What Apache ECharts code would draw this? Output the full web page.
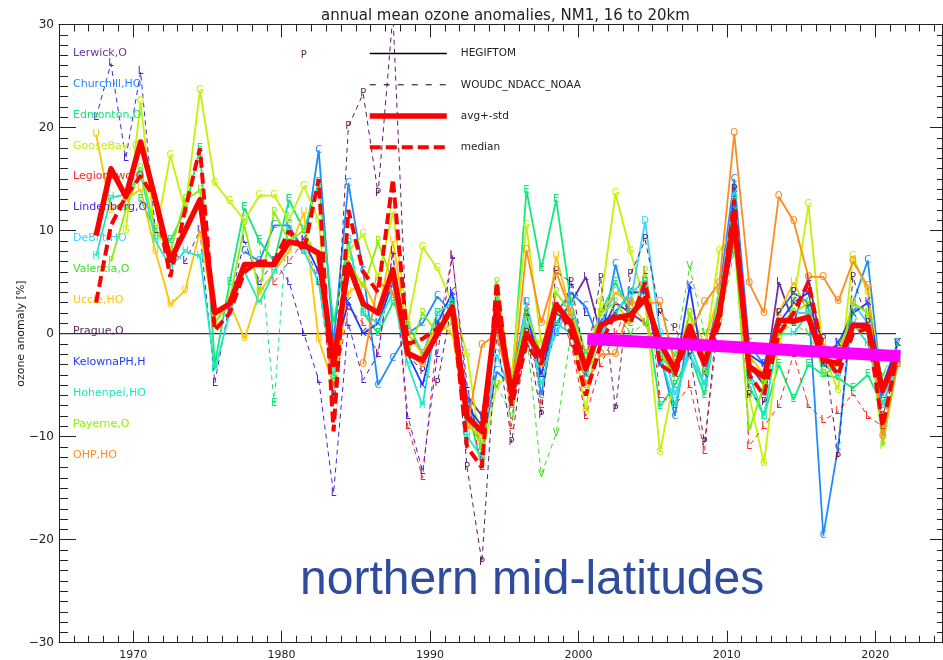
<!DOCTYPE html>
<html>
<head>
<meta charset="utf-8">
<script src="https://cdn.jsdelivr.net/npm/echarts@6/dist/echarts.min.js"></script>
<style>
html, body { margin: 0; padding: 0; background: #fff; }
#main { width: 943px; height: 660px; }
</style>
</head>
<body>
<div id="main"></div>
<script>
// annual means, one value per year from the start year (plotted at mid-year)
var avgStart = 1967;
var avgStd = [9.5, 16, 13.3, 18.6, 13, 7.1, 10, 13, 2, 2.9,
    6.7, 6.7, 6.7, 8.9, 8.6, 7.8, -3, 6.7, 2.9, 2.0,
    6.2, -1.9, -2.6, 0, 2.6, -8.1, -9.5, 2.6, -5.8, 0,
    -2.2, 2.8, 1.0, -3.4, 0.8, 1.5, 1.8, 3.4, -0.9, -3.5,
    0.7, -2.9, 2.0, 11.0, -3.2, -4.2, 1.3, 1.2, 1.6, -2.6,
    -2.9, 0.8, 0.7, -5.5, -2.2];
var median = [3, 10.5, 13.3, 15.3, 13, 5.5, 12, 18, 0.3, 2,
    6, 7, 7, 10, 8, 15, -9.5, 12, 6, 4,
    15, -1, -0.5, 0.5, 2.5, -11, -13, 5, -7, -1,
    -3, 3, 0, -6, -1, 2, 1, 5, -3, -4,
    0, -3, 1, 13, -4, -6, 0, 2, 5, -2,
    -4, 0, 0.5, -9, -2];

// stations (HEGIFTOM solid, WOUDC_NDACC_NOAA dashed)
var lerwickStart = 1992;
var lerwick = [-6, -8, 1, -4, 2, -3, 1, 3, 5.5, 0,
    3, 2, 1, -2, -4, 0, -3, 2, 9, -3,
    -5, 5, 1, 5.4, -2, -1, 1, 1, -6, -2];
var churchillStart = 1977;
var churchill = [8, 7, 10.5, 10.5, 8, 17.8,
    -1, 14.6, 6, -5, -2.4, 0, 1, 3.6, 2, -6,
    -11, -3.7, -5, 3, -6, 2, 4, 2.6, -1, 6.7,
    1, 5, -2, -8, 1, -3, 4, 15, -1, -3,
    2, 4, 3, -19.6, -11, 3, 7.1, -6, -1];
var edmontonStart = 1970;
var edmonton = [13, 10, 9, 12, 18, -3, 5, 12.2, 9, 7,
    13, 10, 14.7, 1, 9, 2, 0, 3, 1, -2,
    2, 3, -7, -13, 2, -5, 13.9, 6.3, 13, 3,
    -2, 2, 5, 2, 3, -7.1, -5, -2, -6, 3,
    12, -5, -8, -3, -6.4, -3, -4, -4.3, -5.3, -4,
    -7, -3];
var edmontonWStart = 1977;
var edmontonW = [12.2, 9, -6.8, 13, 10];
var gooseStart = 1969;
var goose = [10, 22.5, 9.4, 17.3, 12, 23.6, 14.6, 12.8, 11, 13.4,
    13.4, 11, 14.3, 11, -4, 8, 9.6, 5.4, 11.8, 1,
    8.4, 6.3, 3, -2, -12, -5, -4, 10.5, -1, 2,
    1, -7.6, 3, 13.6, 8, 3, -11.5, -4, 1, -2,
    8, 10, -6, -12.6, -1, 3, 12.5, -2, -5.5, 7.5,
    4, -5, -3];
var legionowoStart = 1979;
var legionowo = [5, 7, 9, 5, -6, 2.5, 1, -2, 8, -9,
    -14, 0, 7.6, -6, -13, 3, -9, 3, -7, 3,
    -1, -8, -3, 0, 3, 6, -6, -7, -5, -11.4,
    4, 14, -10.9, -9, -7, -2, -7, -8.4, -7.6, -5.8,
    -8, -9, -3];
var lindenbergStart = 1967;
var lindenberg = [21, 26.2, 17, 25.4, 10, 8, 7, 10, -4.8, 3,
    9, 5, 7, 5, 0, -4.5, -15.5, 1, -4.5, -2,
    8, -8, -13.4, -2, 7.5, -5, -12, 2, -7, -1,
    -4, 0, 5, 2];
var debiltStart = 1993;
var debilt = [-11, -2, -6, 3, -3, 0, 3, -3, 1, 4,
    3, 10.9, 0, -6, -2, -5, 3, 14, -4, -6,
    1, 2, 2, -3, -4, 3, 1, -7, -2];
var valentiaStart = 1994;
var valentia = [-5, -8, 0, -13.7, -9.7, 0, -4, -1, 2, 0,
    1, -3, -2, 6.5, 0, 1, 8, -2, -5, 0,
    1, 0, -3, -1, 2, 0, -4, -1];
var uccleStart = 1967;
var uccle = [19.3, 12, 13, 14, 8, 2.8, 4.2, 10, 1, 3,
    -0.5, 4, 6, 8, 11.8, -0.6, -5, 4, 5, 2,
    9, 0, -2, 1, 0, -9, -10, 1, -7, 1,
    -3, 7.5, 2, -2, 2, 4, 3, 1, -2, -3,
    2, -1, 4, 9, -2, -4, 2, 5, 2, -1,
    -2, 3, 2, -5, -2];
var pragueStart = 1981;
var prague = [27, null, -6, 20.1, 23.3, 13.6, 31, -2, -3.7, -4.8,
    3, -13, -22.2, 0, -10.6, 0, -7.9, 6, 5, -3,
    5.4, -7.4, 5.7, 9.1, 2, 0.5, -2, -10.6, 2, 14,
    -6, -6.7, 2, 4, 2.6, -0.6, -12, 5.5, 1, -8,
    -3];
var kelownaStart = 1981;
var kelowna = [9, 6, -2, 3, 0, 1, 5, -2, -5, 1,
    4, -7, -9, 1, -6, 2, -4, 2, 1, -4,
    1, 2, 4, 4, -3, -4, 4.6, -4, 2, 12,
    -2, -3, 1, 3, 4, -3, -1, 2, 3, -5,
    -1];
var hohenpeiStart = 1967;
var hohenpei = [7.5, 13.2, 13.5, 15.5, 9, 6.5, 8, 7.5, -3.5, 2,
    6, 3, 6, 10, 8, 5, -4.5, 9, 2, 1,
    4, -3, -7, 2, 3, -10, -12, 4, -7, 1,
    -5, 1, 0, -4, 0, 2, 4, 5, -2, -7,
    -1, -5, 2, 13, -4, -8, 0, 0, 2, -4,
    -3, 1, -1, -7, -3];
var payerneStart = 1968;
var payerne = [7, 12, 16, 10, 8, 13, 13.9, 1, 3.3, 10.5,
    4, 11.8, 9, 10, 7, -3, 7, 4.5, 8.9, 5,
    -2, 2, 0, 1, -8, -11, 5, -5, 2, -2,
    4, 2, -3, 2, 3, 1, 6, -2, -4, 2,
    -4, 4, 9, -9.4, -5, 0, 2, 3, -4, -3,
    3, 2, -10.9, -3];
var ohpStart = 1985;
var ohp = [-3, 5, 4, -2, -3, 0, 2, -9, -1.1, 0,
    -6, 8.1, 1, 6, 2, -5, -2, -2, 3, 3,
    3, -3, 0, 3, 4.9, 19.4, 4.9, 2, 13.3, 10.9,
    5.5, 5.5, 3.1, 7, 4.6, -10, -3];

// trend 2000 onwards, and the zero reference
var trendYears = [2000.6, 2021.7];
var trendValues = [-0.5, -2.2];
var zeroYears = [1965, 2021.4];

var stationNames = ['Lerwick,O', 'Churchill,HO', 'Edmonton,O', 'GooseBay,O', 'Legionowo,O',
    'Lindenberg,O', 'DeBilt,HO', 'Valentia,O', 'Uccle,HO', 'Prague,O',
    'KelownaPH,H', 'Hohenpei,HO', 'Payerne,O', 'OHP,HO'];
var stationColors = ['#7030a0', '#1e8cff', '#14e878', '#c4f200', '#ff2424',
    '#4a1fdc', '#38d4ff', '#3ae01e', '#ffc400', '#5c1f5c',
    '#1c3cff', '#1ee8c4', '#8ef000', '#ff8a1e'];
var majorYears = [1970, 1980, 1990, 2000, 2010, 2020];
var minorYears = [];
for (var y = 1966; y <= 2024; y++) minorYears.push(y);

var FONT = 'DejaVu Sans';

function pts(start, vals) { // year -> mid-year point
    return vals.map(function (v, i) { return [start + i + 0.5, v]; });
}

function station(idx, letter, start, vals, dashed) {
    var c = stationColors[idx];
    return {
        name: stationNames[idx], type: 'line', data: pts(start, vals),
        symbol: 'circle', symbolSize: 0.01, showSymbol: true,
        color: c,
        lineStyle: { color: c, width: dashed ? 1 : 1.8, type: dashed ? [5, 4] : 'solid' },
        label: { show: true, position: 'inside', formatter: letter, color: c,
            fontFamily: FONT, fontSize: 10 },
        silent: true, z: 2
    };
}

var series = [
    { name: 'zero', type: 'line', symbol: 'none', silent: true, z: 1,
      data: [[zeroYears[0], 0], [zeroYears[1], 0]],
      lineStyle: { color: '#333', width: 1.2 } },
    station(0, 'L', lerwickStart, lerwick, false),
    station(1, 'C', churchillStart, churchill, false),
    station(2, 'E', edmontonStart, edmonton, false),
    station(2, 'E', edmontonWStart, edmontonW, true),
    station(3, 'G', gooseStart, goose, false),
    station(4, 'L', legionowoStart, legionowo, true),
    station(5, 'L', lindenbergStart, lindenberg, true),
    station(6, 'D', debiltStart, debilt, false),
    station(7, 'V', valentiaStart, valentia, true),
    station(8, 'U', uccleStart, uccle, false),
    station(9, 'P', pragueStart, prague, true),
    station(10, 'K', kelownaStart, kelowna, false),
    station(11, 'H', hohenpeiStart, hohenpei, false),
    station(12, 'P', payerneStart, payerne, false),
    station(13, 'O', ohpStart, ohp, false),
    { name: 'HEGIFTOM', type: 'line', data: [], symbol: 'none', color: '#000',
      lineStyle: { color: '#000', width: 1.5 } },
    { name: 'WOUDC_NDACC_NOAA', type: 'line', data: [], symbol: 'none', color: '#000',
      lineStyle: { color: '#000', width: 1, type: [6, 8] } },
    { name: 'median', type: 'line', data: pts(avgStart, median), symbol: 'none', color: '#ff0000',
      silent: true, z: 5, lineStyle: { color: '#ff0000', width: 4, type: [11, 5] } },
    { name: 'avg+-std', type: 'line', data: pts(avgStart, avgStd), symbol: 'none', color: '#ff0000',
      silent: true, z: 6, lineStyle: { color: '#ff0000', width: 5.5, join: 'round' } },
    { name: 'trend', type: 'line', symbol: 'none', silent: true, z: 7,
      data: [[trendYears[0], trendValues[0]], [trendYears[1], trendValues[1]]],
      lineStyle: { color: '#ff00ff', width: 12, cap: 'butt' } }
];

var axisCol = '#222';
function xAx(pos, ticks, len, line, labels) {
    return {
        type: 'value', min: 1965, max: 2024.5, position: pos,
        axisLine: { show: line, onZero: false, lineStyle: { color: axisCol, width: 1 } },
        axisTick: { inside: true, length: len, customValues: ticks, lineStyle: { color: axisCol } },
        axisLabel: labels ? { customValues: majorYears, margin: 7, fontFamily: FONT, fontSize: 11,
            color: axisCol, formatter: function (v) { return String(v); } } : { show: false },
        splitLine: { show: false }
    };
}

var option = {
    animation: false,
    backgroundColor: '#fff',
    title: {
        text: 'annual mean ozone anomalies, NM1, 16 to 20km',
        left: 316, top: 4,
        textStyle: { fontFamily: FONT, fontSize: 15, fontWeight: 'normal', color: '#222' }
    },
    grid: { left: 59, top: 24.5, width: 883, height: 618.2, outerBoundsMode: 'none' },
    xAxis: [
        xAx('bottom', majorYears, 12, true, true),
        xAx('bottom', minorYears, 7, false, false),
        xAx('top', majorYears, 13, true, false),
        xAx('top', minorYears, 7, false, false)
    ],
    yAxis: [
        {
            type: 'value', min: -30, max: 30, interval: 10, position: 'left',
            name: 'ozone anomaly [%]', nameLocation: 'middle', nameGap: 32, nameRotate: 90,
            nameMoveOverlap: false,
            nameTextStyle: { fontFamily: FONT, fontSize: 11, color: axisCol },
            axisLine: { onZero: false, lineStyle: { color: axisCol } },
            axisTick: { inside: true, length: 17, lineStyle: { color: axisCol } },
            minorTick: { show: true, splitNumber: 10, length: 9, lineStyle: { color: axisCol } },
            axisLabel: { margin: 5, fontFamily: FONT, fontSize: 12, color: axisCol,
                formatter: function (v) { return v < 0 ? '\u2212' + (-v) : String(v); } },
            splitLine: { show: false }
        },
        {
            type: 'value', min: -30, max: 30, interval: 10, position: 'right',
            axisLine: { onZero: false, lineStyle: { color: axisCol } },
            axisTick: { inside: true, length: 12, lineStyle: { color: axisCol } },
            minorTick: { show: true, splitNumber: 10, length: 5, lineStyle: { color: axisCol } },
            axisLabel: { show: false },
            splitLine: { show: false }
        }
    ],
    legend: [
        {
            orient: 'vertical', left: 362, top: 43, itemWidth: 77, itemHeight: 14, itemGap: 20,
            selectedMode: false,
            data: ['HEGIFTOM', 'WOUDC_NDACC_NOAA', 'avg+-std', 'median'],
            itemStyle: { opacity: 0 },
            lineStyle: { width: 'inherit' },
            textStyle: { fontFamily: FONT, fontSize: 10.5, color: '#222', padding: [0, 0, 0, 9] }
        },
        {
            orient: 'vertical', left: 63, top: 41, itemWidth: 0, itemHeight: 14, itemGap: 18.4,
            selectedMode: false, icon: 'none',
            data: stationNames.map(function (n, i) {
                return { name: n, textStyle: { color: stationColors[i] } };
            }),
            textStyle: { fontFamily: FONT, fontSize: 11 }
        }
    ],
    graphic: [{
        type: 'text', left: 300, top: 557,
        style: { text: 'northern mid-latitudes', fill: '#2f4b9b',
            font: '48px "Liberation Sans", Arial, sans-serif' }
    }],
    series: series
};

var chart = echarts.init(document.getElementById('main'));
chart.setOption(option);
</script>
</body>
</html>
